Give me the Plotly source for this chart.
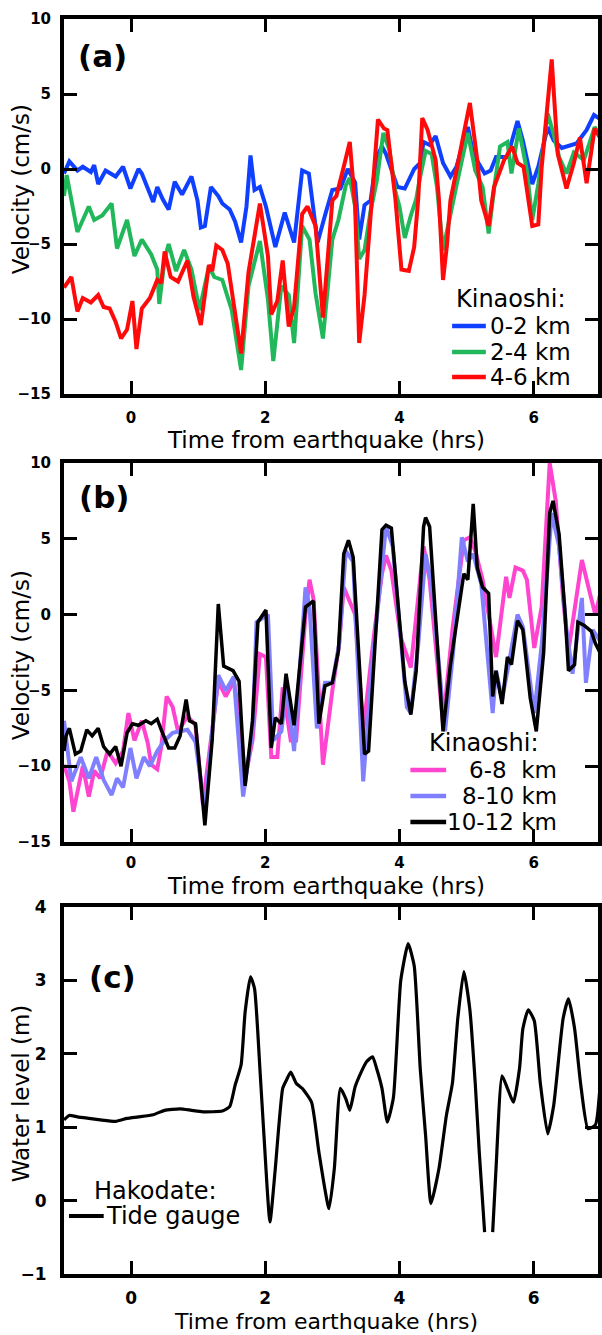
import plotly.graph_objects as go

FONT = "DejaVu Sans"

# ---------------- Panel (a): Kinaoshi 0-6 km ----------------
a_blue_t = [-1.00, -0.92, -0.80, -0.72, -0.60, -0.55, -0.49, -0.38, -0.23, -0.12, -0.01, 0.11, 0.16, 0.28,
            0.33, 0.39, 0.47, 0.56, 0.65, 0.76, 0.90, 0.99, 1.04, 1.10, 1.19, 1.30, 1.36, 1.47, 1.55, 1.64,
            1.72, 1.78, 1.84, 1.92, 2.01, 2.15, 2.29, 2.43, 2.55, 2.65, 2.78, 2.89, 3.00, 3.12, 3.23, 3.34,
            3.40, 3.48, 3.57, 3.66, 3.74, 3.80, 3.97, 4.08, 4.22, 4.31, 4.36, 4.45, 4.54, 4.65, 4.76, 4.85,
            5.02, 5.10, 5.27, 5.36, 5.44, 5.61, 5.76, 5.84, 5.98, 6.07, 6.21, 6.30, 6.42, 6.64, 6.79, 6.90, 7.00]
a_blue_v = [-0.3, 0.5, -0.1, 0.15, -0.2, 0.25, -1.0, -0.1, -0.5, 0.15, -1.3, 0.0, -0.3, -1.6,
            -2.2, -1.2, -2.0, -2.7, -0.85, -1.7, -0.5, -2.1, -3.9, -3.8, -1.2, -1.8, -2.3, -2.7, -3.5, -4.9,
            -2.5, 0.9, -1.4, -1.2, -2.5, -5.2, -2.9, -4.9, -0.1, -0.3, -4.9, -3.1, -1.4, -1.3, 0.0, -0.9,
            -4.7, -2.4, -2.1, 0.8, 1.5, 1.0, -1.2, -1.3, 0.0, 0.4, 1.8, 1.6, 2.2, 0.4, -0.5, 0.15,
            2.8, 1.0, -0.3, -0.1, 0.8, 0.8, 3.2, 1.9, -1.0, 0.15, 2.8, 1.9, 1.4, 1.7, 2.6, 3.6, 3.3]

a_green_t = [-1.00, -0.96, -0.80, -0.63, -0.55, -0.43, -0.29, -0.21, -0.06, 0.05, 0.16, 0.30, 0.39, 0.42,
             0.50, 0.56, 0.67, 0.79, 0.90, 1.02, 1.16, 1.24, 1.36, 1.50, 1.64, 1.75, 1.92, 2.04, 2.12, 2.24,
             2.35, 2.43, 2.55, 2.66, 2.75, 2.86, 3.00, 3.09, 3.20, 3.26, 3.34, 3.40, 3.48, 3.57, 3.66, 3.76,
             3.85, 3.94, 4.00, 4.08, 4.17, 4.25, 4.31, 4.39, 4.48, 4.56, 4.65, 4.71, 4.79, 4.85, 5.02, 5.13,
             5.24, 5.33, 5.42, 5.50, 5.61, 5.67, 5.78, 5.90, 5.98, 6.07, 6.21, 6.30, 6.38, 6.49, 6.60, 6.75,
             6.91, 7.00]
a_green_v = [-1.8, -0.4, -4.2, -2.5, -3.4, -3.1, -2.3, -5.3, -3.4, -5.8, -4.7, -5.7, -6.7, -9.0,
             -6.0, -5.0, -6.8, -5.4, -6.7, -9.4, -6.5, -7.2, -7.4, -9.4, -13.4, -7.8, -4.8, -8.7, -12.8, -7.8,
             -8.4, -11.6, -3.8, -4.7, -8.3, -11.3, -4.7, -3.4, -1.1, -0.6, -2.5, -6.0, -5.4, -2.8, -0.85, 2.4,
             1.3, -1.5, -2.5, -4.6, -3.1, -2.0, -0.5, 1.2, 1.0, -1.2, -5.4, -4.2, -2.3, -1.1, 2.4, -0.1,
             -1.2, -4.3, -1.0, 1.5, 1.8, -0.3, 2.7, -0.1, -3.4, -1.0, 3.7, 2.3, 0.8, -0.3, 1.1, 0.6,
             2.8, 2.2]

a_red_t = [-1.00, -0.89, -0.80, -0.72, -0.60, -0.49, -0.41, -0.32, -0.23, -0.15, -0.06, 0.02, 0.08, 0.16,
           0.28, 0.39, 0.45, 0.50, 0.59, 0.70, 0.84, 0.93, 1.04, 1.16, 1.21, 1.27, 1.36, 1.44, 1.55, 1.64,
           1.75, 1.92, 2.04, 2.09, 2.18, 2.26, 2.35, 2.43, 2.55, 2.63, 2.75, 2.86, 3.00, 3.06, 3.17, 3.26,
           3.34, 3.40, 3.48, 3.57, 3.68, 3.77, 3.82, 3.94, 4.03, 4.14, 4.22, 4.28, 4.34, 4.42, 4.54, 4.59,
           4.65, 4.71, 4.76, 4.85, 5.05, 5.16, 5.22, 5.33, 5.41, 5.56, 5.68, 5.76, 5.85, 5.98, 6.07, 6.12,
           6.27, 6.36, 6.49, 6.60, 6.69, 6.79, 6.91, 7.00]
a_red_v = [-7.9, -7.2, -9.5, -8.6, -8.9, -8.4, -9.2, -9.3, -10.2, -11.3, -10.7, -8.8, -12.0, -9.3,
           -8.6, -7.4, -7.6, -5.5, -7.2, -7.5, -6.1, -8.5, -10.4, -6.4, -6.8, -5.1, -5.4, -6.3, -9.6, -12.3,
           -6.9, -2.3, -5.8, -9.7, -8.8, -6.1, -10.5, -9.2, -3.0, -2.5, -3.8, -9.9, -2.1, -1.8, 0.15, 1.8,
           -2.5, -11.6, -8.4, -3.0, 3.3, 2.7, 2.6, -2.0, -6.7, -6.8, -5.2, -2.0, 3.4, 2.6, 0.6, -2.1,
           -7.4, -5.0, -2.1, -0.1, 4.4, 0.6, -2.1, -3.8, -1.2, 0.6, 1.5, 0.4, 0.15, -3.8, -3.7, 0.1,
           7.3, 1.0, -1.3, 0.4, 2.1, -0.95, 2.7, 2.0]

# ---------------- Panel (b): Kinaoshi 6-12 km ----------------
b_mag_t = [-1.00, -0.92, -0.86, -0.77, -0.72, -0.63, -0.55, -0.46, -0.35, -0.23, -0.12, -0.04, 0.05, 0.16,
           0.25, 0.30, 0.39, 0.45, 0.53, 0.62, 0.70, 0.84, 0.96, 1.07, 1.21, 1.30, 1.41, 1.53, 1.61, 1.70,
           1.81, 1.92, 2.01, 2.09, 2.18, 2.26, 2.38, 2.46, 2.60, 2.66, 2.72, 2.86, 3.00, 3.10, 3.17, 3.26,
           3.34, 3.46, 3.63, 3.74, 3.80, 3.88, 4.02, 4.17, 4.28, 4.36, 4.45, 4.65, 4.79, 4.96, 5.05, 5.13,
           5.24, 5.39, 5.44, 5.59, 5.64, 5.73, 5.84, 5.90, 6.01, 6.12, 6.24, 6.33, 6.44, 6.52, 6.72, 6.84,
           6.92, 7.00]
b_mag_v = [-9.9, -11.0, -13.0, -11.2, -10.0, -12.0, -10.3, -10.8, -9.0, -9.8, -9.0, -6.5, -8.3, -7.0,
           -8.5, -9.9, -10.2, -8.7, -5.4, -6.1, -7.7, -6.7, -7.3, -12.5, -7.7, -4.4, -5.4, -4.4, -6.4, -10.8,
           -8.3, -2.6, -2.8, -9.4, -9.4, -4.8, -8.3, -8.3, 0.0, 2.3, 1.0, -9.9, -5.0, -2.0, 1.8, 0.9,
           0.0, -7.7, -1.0, 2.7, 3.9, 2.9, -1.5, -3.5, 1.0, 4.5, 2.3, -7.2, -1.0, 4.9, 5.1, 4.2,
           2.3, -1.7, -2.8, 2.5, 1.1, 3.1, 2.9, 2.3, -2.2, 0.5, 10.0, 7.5, 1.0, -2.4, 3.6, 1.4,
           0.0, 1.5]

b_lav_t = [-1.00, -0.89, -0.75, -0.63, -0.52, -0.41, -0.29, -0.21, -0.12, -0.01, 0.08, 0.19, 0.28, 0.39,
           0.50, 0.62, 0.73, 0.84, 0.96, 1.10, 1.21, 1.30, 1.41, 1.53, 1.67, 1.81, 1.87, 2.04, 2.12, 2.24,
           2.32, 2.43, 2.60, 2.66, 2.77, 2.89, 3.00, 3.10, 3.20, 3.31, 3.46, 3.60, 3.80, 3.90, 4.11, 4.17,
           4.28, 4.39, 4.48, 4.68, 4.80, 4.93, 5.02, 5.10, 5.22, 5.39, 5.44, 5.53, 5.64, 5.76, 5.84, 6.01,
           6.12, 6.27, 6.38, 6.49, 6.58, 6.72, 6.78, 6.88, 7.00]
b_lav_v = [-7.0, -11.0, -9.4, -10.8, -9.4, -10.9, -11.9, -10.8, -11.4, -8.8, -10.8, -9.4, -10.0, -9.0,
           -8.3, -7.8, -7.7, -7.6, -8.4, -12.9, -7.7, -4.0, -5.0, -4.1, -12.0, -7.7, -0.5, 0.0, -8.3, -7.7,
           -4.8, -9.0, 1.8, 0.5, -7.5, -4.5, -4.5, -2.0, 4.2, 3.5, -11.0, -3.0, 5.8, 4.5, -6.1, -6.5,
           -2.0, 4.0, 2.0, -7.7, -2.5, 5.1, 3.5, 4.0, 2.0, -6.5, -3.7, -5.6, -3.0, 0.0, -0.8, -6.5,
           -2.0, 6.7, 4.5, -1.0, -3.9, 1.1, -4.5, -1.0, -1.8]

b_blk_t = [-1.00, -0.97, -0.92, -0.83, -0.75, -0.66, -0.58, -0.49, -0.41, -0.32, -0.23, -0.15, -0.06, 0.02,
           0.11, 0.22, 0.30, 0.39, 0.45, 0.56, 0.65, 0.73, 0.82, 0.87, 0.96, 1.10, 1.21, 1.30, 1.38, 1.52,
           1.61, 1.70, 1.81, 1.89, 2.01, 2.09, 2.15, 2.24, 2.31, 2.43, 2.60, 2.72, 2.80, 2.89, 3.00, 3.09,
           3.17, 3.24, 3.31, 3.48, 3.54, 3.74, 3.80, 3.88, 4.08, 4.17, 4.25, 4.36, 4.39, 4.45, 4.65, 4.76,
           4.88, 4.96, 5.02, 5.10, 5.16, 5.24, 5.33, 5.39, 5.44, 5.53, 5.61, 5.67, 5.76, 5.84, 5.95, 6.04,
           6.15, 6.24, 6.29, 6.38, 6.47, 6.52, 6.61, 6.66, 6.75, 6.86, 6.92, 7.00]
b_blk_v = [-9.0, -8.0, -7.5, -9.2, -9.0, -7.6, -8.0, -7.5, -8.7, -9.2, -8.7, -10.0, -7.8, -7.2,
           -7.3, -7.0, -7.2, -6.9, -7.6, -8.8, -8.8, -8.0, -5.6, -7.0, -7.2, -13.9, -8.2, 0.7, -3.4, -3.7,
           -4.4, -11.3, -7.0, -0.5, 0.3, -8.8, -6.8, -7.2, -3.9, -7.3, 0.5, 0.9, -7.2, -4.7, -4.5, -2.4,
           4.0, 4.9, 3.8, -9.2, -9.0, 5.6, 5.9, 5.7, -4.4, -6.6, -3.7, 5.8, 6.4, 5.8, -7.7, -3.3,
           0.3, 2.7, 2.3, 7.3, 3.1, 1.8, 1.4, -5.4, -3.7, -5.9, -2.8, -3.3, -0.4, -1.0, -5.5, -7.7,
           -2.5, 6.7, 7.5, 5.3, 0.0, -3.7, -3.3, -0.5, -0.7, -1.1, -1.9, -2.6]

# ---------------- Panel (c): Hakodate tide gauge ----------------
c_tide_t = [-1.00, -0.92, -0.80, -0.63, -0.46, -0.23, -0.06, 0.11, 0.33, 0.50, 0.73, 0.90, 1.07, 1.36,
            1.47, 1.55, 1.64, 1.70, 1.78, 1.84, 1.92, 1.98, 2.07, 2.15, 2.26, 2.32, 2.38, 2.46, 2.55, 2.69,
            2.80, 2.95, 3.03, 3.12, 3.20, 3.26, 3.34, 3.43, 3.51, 3.60, 3.66, 3.74, 3.82, 3.91, 4.02, 4.13,
            4.22, 4.31, 4.39, 4.47, 4.59, 4.70, 4.79, 4.87, 4.96, 5.05, 5.13, 5.19, 5.27, 5.33, 5.39, 5.44,
            5.53, 5.61, 5.70, 5.79, 5.84, 5.92, 6.01, 6.10, 6.21, 6.30, 6.44, 6.52, 6.61, 6.70, 6.81, 6.92,
            7.00]
c_tide_w = [1.10, 1.16, 1.14, 1.12, 1.10, 1.08, 1.12, 1.14, 1.17, 1.23, 1.25, 1.23, 1.21, 1.22,
            1.28, 1.57, 1.85, 2.57, 3.05, 2.89, 1.80, 0.90, -0.29, 0.44, 1.53, 1.65, 1.75, 1.60, 1.53, 1.34,
            0.66, -0.11, 0.44, 1.53, 1.39, 1.23, 1.55, 1.75, 1.89, 1.96, 1.80, 1.53, 1.07, 1.40, 3.00, 3.50,
            3.20, 1.80, 0.89, -0.04, 0.44, 1.16, 1.60, 2.48, 3.12, 2.60, 1.60, 0.66, -0.43, None, -0.43, 0.44,
            1.70, 1.53, 1.34, 1.80, 2.34, 2.60, 2.45, 1.60, 0.91, 1.30, 2.48, 2.75, 2.35, 1.60, 0.98, 1.03,
            1.70]

x_ticks = [0, 2, 4, 6]
vel_ticks = [-15, -10, -5, 0, 5, 10]
lvl_ticks = [-1, 0, 1, 2, 3, 4]

BLUE = "#1040ff"
GREEN = "#20b85a"
RED = "#ff0a0a"
MAGENTA = "#ff44d0"
LAVENDER = "#8080ff"
BLACK = "#000000"

fig = go.Figure()


def add_line(t, v, color, width, xa, ya, shape="linear"):
    fig.add_trace(go.Scatter(x=t, y=v, mode="lines",
                             line=dict(color=color, width=width, shape=shape, smoothing=0.5),
                             xaxis=xa, yaxis=ya, showlegend=False, hoverinfo="skip",
                             connectgaps=False))


add_line(a_blue_t, a_blue_v, BLUE, 4, "x", "y")
add_line(a_green_t, a_green_v, GREEN, 4, "x", "y")
add_line(a_red_t, a_red_v, RED, 4, "x", "y")

add_line(b_mag_t, b_mag_v, MAGENTA, 4, "x2", "y2")
add_line(b_lav_t, b_lav_v, LAVENDER, 4, "x2", "y2")
add_line(b_blk_t, b_blk_v, BLACK, 3.5, "x2", "y2")

add_line(c_tide_t, c_tide_w, BLACK, 3.2, "x3", "y3", shape="spline")

H = 1335
TOP, BOT = 19, 61
PH = H - TOP - BOT  # plot height in px


def py(ypx):
    return (H - BOT - ypx) / PH


def px(xpx):
    return (xpx - 64) / 538.0


common = dict(showline=True, linecolor="black", linewidth=4, mirror="ticks", ticks="inside",
              ticklen=13, tickwidth=3, tickcolor="black", showgrid=False, zeroline=False)

xfont = dict(family=FONT, size=15, color="black", weight="bold")
xfont_c = dict(family=FONT, size=17, color="black", weight="bold")

fig.update_layout(
    width=602, height=H,
    margin=dict(l=64, r=0, t=TOP, b=BOT),
    paper_bgcolor="white", plot_bgcolor="white",
    font=dict(family=FONT, color="black"),
    showlegend=False,
    xaxis=dict(domain=[0, 1], anchor="y", range=[-1, 6.96], tickvals=x_ticks, tickfont=xfont,
               ticklabelstandoff=7, **common),
    yaxis=dict(domain=[py(394), 1], anchor="x", range=[-15, 10], tickvals=vel_ticks, tickfont=xfont,
               ticklabelstandoff=6, **common),
    xaxis2=dict(domain=[0, 1], anchor="y2", range=[-1, 6.96], tickvals=x_ticks, tickfont=xfont,
                ticklabelstandoff=4, **common),
    yaxis2=dict(domain=[py(842), py(463)], anchor="x2", range=[-15, 10], tickvals=vel_ticks,
                tickfont=xfont, ticklabelstandoff=6, **common),
    xaxis3=dict(domain=[0, 1], anchor="y3", range=[-1, 6.96], tickvals=x_ticks, tickfont=xfont_c,
                ticklabelstandoff=6, **common),
    yaxis3=dict(domain=[0, py(907)], anchor="x3", range=[-1, 4], tickvals=lvl_ticks,
                tickfont=xfont_c, ticklabelstandoff=10, **common),
)

ann = []
xt = "Time from earthquake (hrs)"
for ycen in (440, 886):
    ann.append(dict(text=xt, xref="paper", yref="paper", x=px(328), y=py(ycen), xanchor="center",
                    yanchor="middle", showarrow=False, font=dict(family=FONT, size=23, color="black")))
ann.append(dict(text=xt, xref="paper", yref="paper", x=px(328), y=py(1321), xanchor="center",
                yanchor="middle", showarrow=False,
                font=dict(family=FONT, size=22, color="black")))

for txt, ycen in (("Velocity (cm/s)", 189), ("Velocity (cm/s)", 655), ("Water level (m)", 1093)):
    ann.append(dict(text=txt, xref="paper", yref="paper", x=px(21), y=py(ycen), xanchor="center",
                    yanchor="middle", textangle=-90, showarrow=False,
                    font=dict(family=FONT, size=23, color="black")))

for txt, xc, yc in (("(a)", 103, 56), ("(b)", 105, 497), ("(c)", 113, 977)):
    ann.append(dict(text=txt, xref="paper", yref="paper", x=px(xc), y=py(yc), xanchor="center",
                    yanchor="middle", showarrow=False,
                    font=dict(family=FONT, size=31, color="black", weight="bold")))

# legend (a)
LF = dict(family=FONT, size=23, color="black")
ann.append(dict(text="Kinaoshi:", xref="paper", yref="paper", x=px(457), y=py(299), xanchor="left",
                yanchor="middle", showarrow=False, font=dict(family=FONT, size=24, color="black")))
shapes = []
for lab, col, yc in (("0-2 km", BLUE, 326), ("2-4 km", GREEN, 352), ("4-6 km", RED, 377)):
    shapes.append(dict(type="line", xref="paper", yref="paper", x0=px(455), x1=px(489), y0=py(yc), y1=py(yc),
                       line=dict(color=col, width=4.5)))
    ann.append(dict(text=lab, xref="paper", yref="paper", x=px(491), y=py(yc), xanchor="left",
                    yanchor="middle", showarrow=False, font=LF))

# legend (b)
LF2 = dict(family=FONT, size=23, color="black")
ann.append(dict(text="Kinaoshi:", xref="paper", yref="paper", x=px(430), y=py(743), xanchor="left",
                yanchor="middle", showarrow=False, font=dict(family=FONT, size=24, color="black")))
for lab, col, yc in (("6-8\u00a0\u00a0km", MAGENTA, 770), ("8-10 km", LAVENDER, 796), ("10-12 km", BLACK, 822)):
    shapes.append(dict(type="line", xref="paper", yref="paper", x0=px(413), x1=px(449), y0=py(yc), y1=py(yc),
                       line=dict(color=col, width=4.5)))
    ann.append(dict(text=lab, xref="paper", yref="paper", x=px(563), y=py(yc), xanchor="right",
                    yanchor="middle", showarrow=False, font=LF2))

# legend (c)
ann.append(dict(text="Hakodate:", xref="paper", yref="paper", x=px(92), y=py(1191), xanchor="left",
                yanchor="middle", showarrow=False, font=dict(family=FONT, size=24, color="black")))
shapes.append(dict(type="line", xref="paper", yref="paper", x0=px(69), x1=px(104), y0=py(1216), y1=py(1216),
                   line=dict(color=BLACK, width=4)))
ann.append(dict(text="Tide gauge", xref="paper", yref="paper", x=px(104), y=py(1216), xanchor="left",
                yanchor="middle", showarrow=False, font=dict(family=FONT, size=24, color="black")))

fig.update_layout(annotations=ann, shapes=shapes)

fig.write_html("out.html", config={"displayModeBar": False},
               post_script="document.body.style.margin='0px';document.body.style.overflow='hidden';")
